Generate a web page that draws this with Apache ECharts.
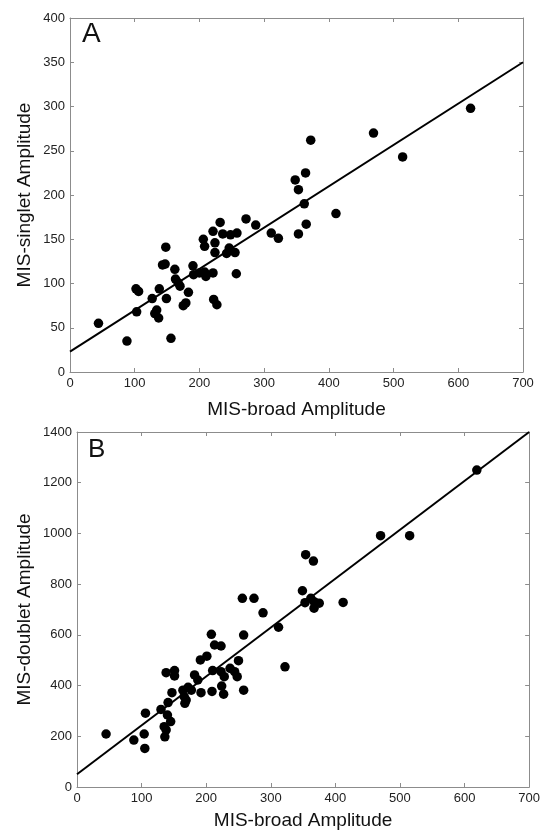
<!DOCTYPE html>
<html>
<head>
<meta charset="utf-8">
<script src="https://cdn.jsdelivr.net/npm/echarts@6/dist/echarts.min.js"></script>
<style>
  html, body { margin: 0; padding: 0; background: #fff; }
  #chart { width: 543px; height: 831px; }
</style>
</head>
<body>
<div id="chart"></div>
<script>
// ---- Data ----
// Panel A: MIS-broad amplitude vs MIS-singlet amplitude
const broadA = [44, 88, 156, 103, 102, 106, 127, 134, 131, 137, 138, 149, 143, 147, 148, 162, 163, 167, 170, 175, 179, 183, 190, 191, 200, 208, 210, 206, 208, 221, 221, 224, 236, 224, 232, 222, 227, 242, 246, 255, 248, 258, 257, 272, 287, 311, 322, 348, 353, 362, 364, 365, 353, 372, 411, 469, 514, 619];
const singlet = [55, 35, 38, 68, 94, 91, 83, 70, 66, 61, 94, 83, 121, 122, 141, 116, 105, 101, 97, 75, 78, 90, 120, 110, 112, 113, 108, 150, 142, 112, 159, 146, 156, 135, 169, 82, 76, 134, 140, 135, 155, 157, 111, 173, 166, 157, 151, 217, 206, 190, 225, 167, 156, 262, 179, 270, 243, 298];
// Panel B: MIS-broad amplitude vs MIS-doublet amplitude
const broadB = [45, 88, 104, 105, 106, 130, 135, 136, 138, 140, 145, 141, 147, 138, 151, 151, 164, 166, 169, 167, 172, 177, 182, 187, 192, 191, 201, 208, 210, 209, 213, 223, 223, 228, 224, 227, 237, 244, 248, 250, 258, 258, 256, 274, 288, 312, 322, 349, 354, 366, 353, 362, 367, 375, 367, 412, 470, 515, 619];
const doublet = [209, 185, 209, 152, 291, 306, 238, 198, 225, 284, 258, 333, 372, 451, 459, 438, 382, 356, 343, 330, 393, 382, 442, 422, 372, 501, 516, 602, 459, 377, 560, 556, 455, 435, 398, 366, 468, 455, 435, 498, 382, 599, 744, 744, 687, 630, 474, 774, 916, 891, 727, 744, 731, 725, 705, 728, 991, 991, 1250];
// Regression line end points
const fitX = [0, 700];
const fitAy = [23, 350];
const fitBy = [50, 1400];
// Axis ranges / ticks
const xRange = [0, 700, 100];
const yRangeA = [0, 400, 50];
const yRangeB = [0, 1400, 200];
const panelLabels = ['A', 'B'];
const xTitle = 'MIS-broad Amplitude';
const yTitleA = 'MIS-singlet Amplitude';
const yTitleB = 'MIS-doublet Amplitude';

const zip = (a, b) => a.map((v, i) => [v, b[i]]);

const FONT = 'Liberation Sans, Arial, Helvetica, sans-serif';
const AX = '#8c8c8c';

function mkAxis(gridIndex, range, opts) {
  return Object.assign({
    type: 'value',
    gridIndex: gridIndex,
    min: range[0], max: range[1], interval: range[2],
    nameMoveOverlap: false,
    axisLine: { show: true, onZero: false, lineStyle: { color: AX, width: 1 } },
    axisTick: { show: true, inside: true, length: 4, lineStyle: { color: AX } },
    axisLabel: { show: true, color: '#222', fontSize: 13, fontFamily: FONT, margin: 5,
                 formatter: (v) => String(v) },
    splitLine: { show: false }
  }, opts);
}
function mkPlainAxis(gridIndex, range, position) {
  return mkAxis(gridIndex, range, { position: position, axisLabel: { show: false } });
}

const nameStyle = { fontSize: 19, color: '#111', fontFamily: FONT };

const option = {
  animation: false,
  backgroundColor: '#fff',
  grid: [
    { left: 70, top: 18, width: 453, height: 354 },
    { left: 77, top: 432, width: 454, height: 355 }
  ],
  xAxis: [
    mkAxis(0, xRange, { position: 'bottom', name: xTitle, nameLocation: 'middle', nameGap: 28, nameTextStyle: nameStyle }),
    mkPlainAxis(0, xRange, 'top'),
    mkAxis(1, xRange, { position: 'bottom', name: xTitle, nameLocation: 'middle', nameGap: 24, nameTextStyle: nameStyle }),
    mkPlainAxis(1, xRange, 'top')
  ],
  yAxis: [
    mkAxis(0, yRangeA, { position: 'left', name: yTitleA, nameLocation: 'middle', nameGap: 36, nameTextStyle: nameStyle }),
    mkPlainAxis(0, yRangeA, 'right'),
    mkAxis(1, yRangeB, { position: 'left', name: yTitleB, nameLocation: 'middle', nameGap: 43, nameTextStyle: nameStyle }),
    mkPlainAxis(1, yRangeB, 'right')
  ],
  graphic: [
    { type: 'text', left: 82, top: 20, style: { text: panelLabels[0], fontSize: 28, fontFamily: FONT, fill: '#111' } },
    { type: 'text', left: 88, top: 437, style: { text: panelLabels[1], fontSize: 26, fontFamily: FONT, fill: '#111' } }
  ],
  series: [
    { type: 'line', xAxisIndex: 0, yAxisIndex: 0, data: zip(fitX, fitAy), symbol: 'none',
      lineStyle: { color: '#000', width: 2 }, z: 2 },
    { type: 'scatter', xAxisIndex: 0, yAxisIndex: 0, data: zip(broadA, singlet), symbol: 'circle',
      symbolSize: 9.5, itemStyle: { color: '#000', opacity: 1 }, z: 3 },
    { type: 'line', xAxisIndex: 2, yAxisIndex: 2, data: zip(fitX, fitBy), symbol: 'none',
      lineStyle: { color: '#000', width: 2 }, z: 2 },
    { type: 'scatter', xAxisIndex: 2, yAxisIndex: 2, data: zip(broadB, doublet), symbol: 'circle',
      symbolSize: 9.5, itemStyle: { color: '#000', opacity: 1 }, z: 3 }
  ]
};

const chart = echarts.init(document.getElementById('chart'), null, { renderer: 'canvas' });
chart.setOption(option);
</script>
</body>
</html>
